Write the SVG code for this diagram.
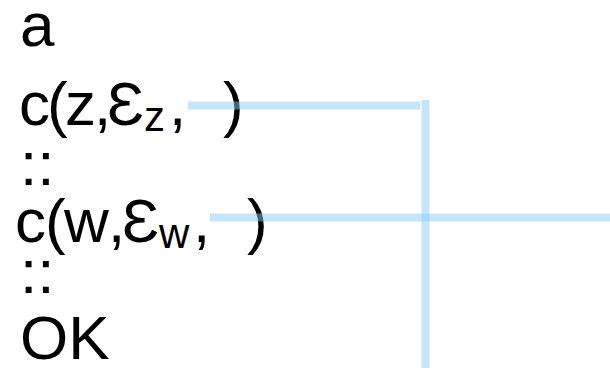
<svg xmlns="http://www.w3.org/2000/svg" width="610" height="368" viewBox="0 0 610 368">
<style>
text{font-family:"Liberation Sans",Arial,sans-serif;font-size:62px;fill:#000}
.sub{font-size:42px}
.wire{stroke:#87cefa;stroke-opacity:0.5;stroke-width:8;fill:none}
</style>
<rect width="610" height="368" fill="#fff"/>
<g id="n-a"><text x="20" y="46">a</text></g>
<g id="n-cz"><text y="125"><tspan x="19">c</tspan><tspan x="47">(</tspan><tspan x="65">z</tspan><tspan x="94">,</tspan><tspan x="107">Ɛ</tspan><tspan x="144" y="131" class="sub">z</tspan><tspan x="169" y="125">,</tspan><tspan x="223">)</tspan></text></g>
<g id="n-dots1"><text x="20" y="185">::</text></g>
<g id="n-cw"><text y="242"><tspan x="15">c</tspan><tspan x="45">(</tspan><tspan x="64">w</tspan><tspan x="108">,</tspan><tspan x="122">Ɛ</tspan><tspan x="159" y="248" class="sub">w</tspan><tspan x="193" y="242">,</tspan><tspan x="247">)</tspan></text></g>
<g id="n-dots2"><text x="20" y="293">::</text></g>
<g id="n-ok"><text x="20" y="359">OK</text></g>
<g id="connectors">
<path class="wire" d="M188,105.5H420"/>
<path class="wire" d="M425.5,100V368"/>
<path class="wire" d="M210,217.5H610"/>
</g>
</svg>
